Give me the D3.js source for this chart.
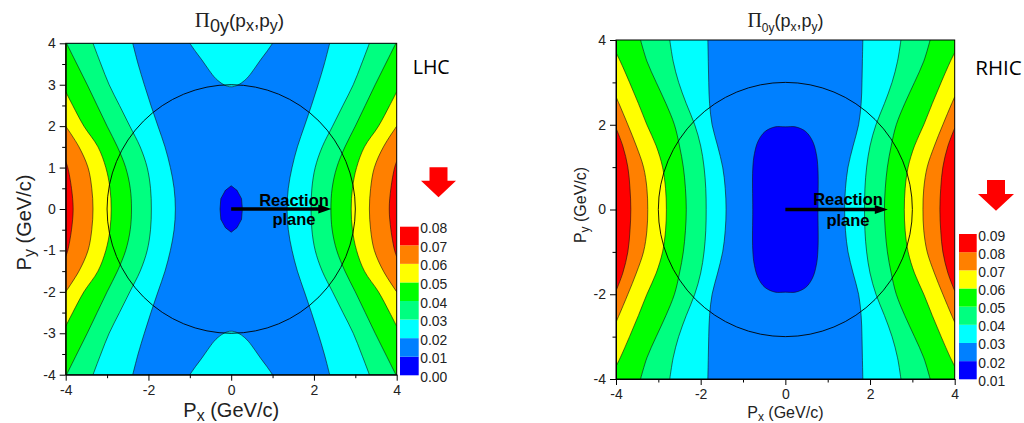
<!DOCTYPE html>
<html><head><meta charset="utf-8">
<script src="https://cdn.jsdelivr.net/npm/d3@7"></script>
<style>body{margin:0;background:#fff;} svg{display:block;font-family:"Liberation Sans",Arial,sans-serif;}</style>
</head><body><svg id="c" width="1024" height="423"></svg>
<script>
// ================= DATA =================
const bandColors = ["#0000ff","#0080ff","#00ffff","#00ff80","#00ff00","#ffff00","#ff8000","#ff0000"];
const lhcLevels  = [0.00,0.01,0.02,0.03,0.04,0.05,0.06,0.07,0.08];
const rhicLevels = [0.01,0.02,0.03,0.04,0.05,0.06,0.07,0.08,0.09];
const lhcTicksX = [-4,-2,0,2,4], lhcMinorX = [-3,-1,1,3];
const lhcTicksY = [-4,-3,-2,-1,0,1,2,3,4], lhcMinorY = [-3.5,-2.5,-1.5,-0.5,0.5,1.5,2.5,3.5];
const rhicTicksX = [-4,-2,0,2,4], rhicMinorX = [-3,-1,1,3];
const rhicTicksY = [-4,-2,0,2,4], rhicMinorY = [-3,-1,1,3];

// Contour boundaries (right half, |py| >= 0; mirrored about both axes)
const lhcY    = [0,0.5,1,1.5,2,2.5,3,3.5,4];
const lhcX002 = [1.35,1.38,1.47,1.60,1.77,1.94,2.10,2.25,2.38];
const lhcX003 = [1.93,1.95,2.03,2.20,2.45,2.70,2.95,3.15,3.34];
const lhcX004 = [2.41,2.44,2.55,2.75,3.00,3.24,3.48,3.73,3.98];
const lhcY005 = [0,0.5,1,1.5,2,2.5,2.83];
const lhcX005 = [2.90,2.93,3.03,3.22,3.56,3.83,4.00];
const lhcY006 = [0,0.5,1,1.5,2.0];
const lhcX006 = [3.34,3.37,3.46,3.68,4.00];
const lhcY007 = [0,0.5,1,1.15];
const lhcX007 = [3.82,3.86,3.95,4.00];
// 0.02 island near |py|=4 (cyan caps)
const lhcCapY = [2.95,2.99,3.1,3.2,3.4,3.6,3.8,4.0];
const lhcCapX = [0,0.16,0.32,0.42,0.57,0.71,0.86,1.0];
// 0.01 island at centre
const lhcCoreX = [0,0.14,0.25,0.27,0.25,0.14,0,-0.14,-0.25,-0.27,-0.25,-0.14];
const lhcCoreY = [0.56,0.45,0.25,0,-0.25,-0.45,-0.56,-0.45,-0.25,0,0.25,0.45];

const rhicY    = [0,0.5,1,1.5,2,2.5,3,3.5,4];
const rhicX003 = [1.40,1.42,1.48,1.60,1.73,1.79,1.81,1.82,1.83];
const rhicX004 = [1.87,1.88,1.92,2.00,2.14,2.34,2.52,2.65,2.73];
const rhicX005 = [2.34,2.36,2.41,2.50,2.62,2.82,3.05,3.27,3.42];
const rhicY006 = [0,0.5,1,1.5,2,2.5,3,3.5,3.7];
const rhicX006 = [2.81,2.83,2.90,3.05,3.27,3.47,3.68,3.90,4.00];
const rhicY007 = [0,0.5,1,1.5,2,2.5,2.66];
const rhicX007 = [3.25,3.27,3.35,3.52,3.72,3.93,4.00];
const rhicY008 = [0,0.5,1,1.5,1.92];
const rhicX008 = [3.65,3.67,3.72,3.84,4.00];
// 0.02 island at centre
const rhicCoreX = [0,0.24,0.48,0.64,0.73,0.77,0.77,0.77,0.73,0.64,0.48,0.24,0,-0.24,-0.48,-0.64,-0.73,-0.77,-0.77,-0.77,-0.73,-0.64,-0.48,-0.24];
const rhicCoreY = [1.95,1.95,1.84,1.62,1.32,0.95,0,-0.95,-1.32,-1.62,-1.84,-1.95,-1.95,-1.95,-1.84,-1.62,-1.32,-0.95,0,0.95,1.32,1.62,1.84,1.95];

const circleRadius = 3;
const arrowLength = 2.42;

// ================= DRAW =================
const svg = d3.select("#c");
const defs = svg.append("defs");

function drawPanel(p) {
  const xs = d3.scaleLinear().domain([-4,4]).range([p.x0,p.x1]);
  const ys = d3.scaleLinear().domain([-4,4]).range([p.y1,p.y0]);
  defs.append("clipPath").attr("id","clip"+p.id).append("rect")
    .attr("x",p.x0).attr("y",p.y0).attr("width",p.x1-p.x0).attr("height",p.y1-p.y0);
  const g = svg.append("g");
  const plot = g.append("g").attr("clip-path",`url(#clip${p.id})`);
  const line = d3.line().x(d=>xs(d[0])).y(d=>ys(d[1])).curve(d3.curveCatmullRom.alpha(0.5));
  const E = 4.6;
  const P = (x,y)=>`${xs(x)},${ys(y)}`;

  plot.append("rect").attr("x",p.x0).attr("y",p.y0).attr("width",p.x1-p.x0).attr("height",p.y1-p.y0)
    .attr("fill",p.colors[p.colors.length-1]);

  const strokes = [];
  p.contours.forEach(c => {
    const k = p.levels.indexOf(c.level);
    const n = c.y.length, ymax = c.y[n-1];
    const right = [];
    for (let i=n-1;i>=1;i--) right.push([c.x[i],-c.y[i]]);
    for (let i=0;i<n;i++) right.push([c.x[i],c.y[i]]);
    const left = right.slice().reverse().map(d=>[-d[0],d[1]]);
    const d = line(right) + `L${P(E,ymax)}L${P(E,E)}L${P(-E,E)}L${P(-E,ymax)}` +
      line(left).replace(/^M/,"L") + `L${P(-E,-ymax)}L${P(-E,-E)}L${P(E,-E)}L${P(E,-ymax)}Z`;
    plot.append("path").attr("d",d).attr("fill",p.colors[k-1]);
    strokes.push(line(right), line(left));
  });

  if (p.cap) {
    const k = p.levels.indexOf(p.cap.level);
    [1,-1].forEach(s => {
      const n = p.cap.y.length;
      const chain = [];
      for (let i=n-1;i>=1;i--) chain.push([-p.cap.x[i], s*p.cap.y[i]]);
      for (let i=0;i<n;i++) chain.push([p.cap.x[i], s*p.cap.y[i]]);
      const d = line(chain) + `L${P(p.cap.x[n-1], s*E)}L${P(-p.cap.x[n-1], s*E)}Z`;
      plot.append("path").attr("d",d).attr("fill",p.colors[k]);
      strokes.push(line(chain));
    });
  }

  if (p.core) {
    const pts = p.core.x.map((x,i)=>[x,p.core.y[i]]);
    const cl = d3.line().x(d=>xs(d[0])).y(d=>ys(d[1])).curve(p.core.smooth ? d3.curveCatmullRomClosed.alpha(0.5) : d3.curveLinearClosed);
    plot.append("path").attr("d",cl(pts)).attr("fill",p.colors[0]);
    strokes.push(cl(pts));
  }

  strokes.forEach(d => plot.append("path").attr("d",d).attr("fill","none")
      .attr("stroke","#111").attr("stroke-width",0.7).attr("stroke-opacity",0.85));

  // circle
  plot.append("ellipse").attr("cx",xs(0)).attr("cy",ys(0))
    .attr("rx",xs(circleRadius)-xs(0)).attr("ry",ys(0)-ys(circleRadius))
    .attr("fill","none").attr("stroke","#000").attr("stroke-width",0.9);

  // reaction plane arrow
  const ax0 = xs(0), ax1 = xs(arrowLength), ay = ys(0);
  g.append("line").attr("x1",ax0).attr("y1",ay).attr("x2",ax1-10).attr("y2",ay)
    .attr("stroke","#000").attr("stroke-width",3.6);
  g.append("path").attr("d",`M${ax1},${ay}L${ax1-13},${ay-4.5}L${ax1-13},${ay+4.5}Z`).attr("fill","#000");
  g.append("text").attr("x",p.rx).attr("y",p.ry1).attr("text-anchor","middle")
    .attr("font-weight","bold").attr("font-size",16.5).text("Reaction");
  g.append("text").attr("x",p.rx).attr("y",p.ry2).attr("text-anchor","middle")
    .attr("font-weight","bold").attr("font-size",16.5).text("plane");

  // frame
  g.append("rect").attr("x",p.x0).attr("y",p.y0).attr("width",p.x1-p.x0).attr("height",p.y1-p.y0)
    .attr("fill","none").attr("stroke","#000").attr("stroke-width",1);

  // axes
  const fmt = d => String(d);
  const xa = g.append("g").attr("transform",`translate(0,${p.y1})`)
    .call(d3.axisBottom(xs).tickValues(p.ticksX).tickSize(6).tickSizeOuter(0).tickPadding(4).tickFormat(fmt));
  const xm = g.append("g").attr("transform",`translate(0,${p.y1})`)
    .call(d3.axisBottom(xs).tickValues(p.minorX).tickSize(3.5).tickSizeOuter(0).tickFormat(""));
  const ya = g.append("g").attr("transform",`translate(${p.x0},0)`)
    .call(d3.axisLeft(ys).tickValues(p.ticksY).tickSize(6).tickSizeOuter(0).tickPadding(4).tickFormat(fmt));
  const ym = g.append("g").attr("transform",`translate(${p.x0},0)`)
    .call(d3.axisLeft(ys).tickValues(p.minorY).tickSize(3.5).tickSizeOuter(0).tickFormat(""));
  [xm,ym].forEach(a=>a.select(".domain").remove());
  [xa,xm,ya,ym].forEach(a=>{
    a.attr("font-family","'Liberation Sans',Arial,sans-serif").attr("font-size",14);
    a.selectAll("text").attr("fill","#222");
    a.selectAll("line,path").attr("stroke","#000");
  });

  // axis titles
  const xt = g.append("text").attr("x",(p.x0+p.x1)/2).attr("y",p.xtY).attr("text-anchor","middle")
    .attr("fill","#222").attr("font-size",p.atSize);
  xt.append("tspan").text("P");
  xt.append("tspan").attr("font-size",p.atSub).attr("dy",p.atDy).text("x");
  xt.append("tspan").attr("dy",-p.atDy).text(" (GeV/c)");
  const yt = g.append("text").attr("transform",`translate(${p.ytX},${p.ytY}) rotate(-90)`)
    .attr("text-anchor","middle").attr("fill","#222").attr("font-size",p.atSize);
  yt.append("tspan").text("P");
  yt.append("tspan").attr("font-size",p.atSub).attr("dy",p.atDy).text("y");
  yt.append("tspan").attr("dy",-p.atDy).text(" (GeV/c)");

  // title
  const t = g.append("text").attr("x",p.titleX).attr("y",27).attr("text-anchor","middle").attr("fill","#222");
  t.append("tspan").attr("font-family","'Liberation Serif',serif").attr("font-size",p.tMain+2).text("\u03A0");
  t.append("tspan").attr("font-size",p.tSub).attr("dy",p.tDy).text("0y");
  t.append("tspan").attr("font-size",p.tMain).attr("dy",-p.tDy).text("(p");
  t.append("tspan").attr("font-size",p.tSub2).attr("dy",4).text("x");
  t.append("tspan").attr("font-size",p.tMain).attr("dy",-4).text(",p");
  t.append("tspan").attr("font-size",p.tSub2).attr("dy",4).text("y");
  t.append("tspan").attr("font-size",p.tMain).attr("dy",-4).text(")");

  // colour bar
  const cb = d3.scaleLinear().domain([p.levels[0],p.levels[p.levels.length-1]]).range([p.cbY1,p.cbY0]);
  p.colors.forEach((col,i)=>{
    g.append("rect").attr("x",p.cbX).attr("width",p.cbW)
      .attr("y",cb(p.levels[i+1])).attr("height",cb(p.levels[i])-cb(p.levels[i+1])).attr("fill",col);
  });
  p.levels.forEach(l=>{
    g.append("text").attr("x",p.cbX+p.cbW+1.5).attr("y",cb(l)+6.5).attr("font-size",14.5)
      .attr("fill","#222").attr("textLength",27).attr("lengthAdjust","spacingAndGlyphs").text(l.toFixed(2));
  });

  // red arrow
  const a = p.red;
  g.append("path").attr("fill","#ff0000")
    .attr("d",`M${a.cx-a.sw},${a.top}H${a.cx+a.sw}V${a.mid}H${a.cx+a.hw}L${a.cx},${a.tip}L${a.cx-a.hw},${a.mid}H${a.cx-a.sw}Z`);

  // collider label
  g.append("text").attr("x",p.labX).attr("y",p.labY).attr("font-family","'Open Sans',sans-serif")
    .attr("font-size",20).attr("fill","#000").attr("textLength",p.labW).attr("lengthAdjust","spacingAndGlyphs").text(p.label);
}

drawPanel({
  id:"lhc", x0:65.7, x1:396.7, y0:43.3, y1:374.7, levels:lhcLevels, colors:bandColors,
  contours:[
    {level:0.07, y:lhcY007, x:lhcX007},
    {level:0.06, y:lhcY006, x:lhcX006},
    {level:0.05, y:lhcY005, x:lhcX005},
    {level:0.04, y:lhcY, x:lhcX004},
    {level:0.03, y:lhcY, x:lhcX003},
    {level:0.02, y:lhcY, x:lhcX002}],
  cap:{level:0.02, y:lhcCapY, x:lhcCapX},
  core:{x:lhcCoreX, y:lhcCoreY, smooth:false},
  ticksX:lhcTicksX, minorX:lhcMinorX, ticksY:lhcTicksY, minorY:lhcMinorY,
  rx:294, ry1:205.5, ry2:224.5,
  xtY:416.5, ytX:31, ytY:222.5, atSize:20, atSub:16, atDy:4,
  titleX:239.5, tMain:19, tSub:18, tDy:5, tSub2:16,
  cbX:400, cbW:18.7, cbY0:226.7, cbY1:375.3,
  red:{cx:438.5, sw:9, hw:17.5, top:167.3, mid:180.7, tip:197.3},
  label:"LHC", labX:412.7, labY:74, labW:37
});

drawPanel({
  id:"rhic", x0:616, x1:954.7, y0:40, y1:379, levels:rhicLevels, colors:bandColors,
  contours:[
    {level:0.08, y:rhicY008, x:rhicX008},
    {level:0.07, y:rhicY007, x:rhicX007},
    {level:0.06, y:rhicY006, x:rhicX006},
    {level:0.05, y:rhicY, x:rhicX005},
    {level:0.04, y:rhicY, x:rhicX004},
    {level:0.03, y:rhicY, x:rhicX003}],
  cap:null,
  core:{x:rhicCoreX, y:rhicCoreY, smooth:true},
  ticksX:rhicTicksX, minorX:rhicMinorX, ticksY:rhicTicksY, minorY:rhicMinorY,
  rx:848, ry1:205, ry2:226,
  xtY:418, ytX:586, ytY:205, atSize:16, atSub:12, atDy:3,
  titleX:785.5, tMain:18, tSub:12, tDy:5, tSub2:12,
  cbX:959, cbW:17.7, cbY0:234, cbY1:379.3,
  red:{cx:996, sw:9, hw:18, top:180, mid:194, tip:210.7},
  label:"RHIC", labX:975.3, labY:75, labW:46.5
});
</script></body></html>
